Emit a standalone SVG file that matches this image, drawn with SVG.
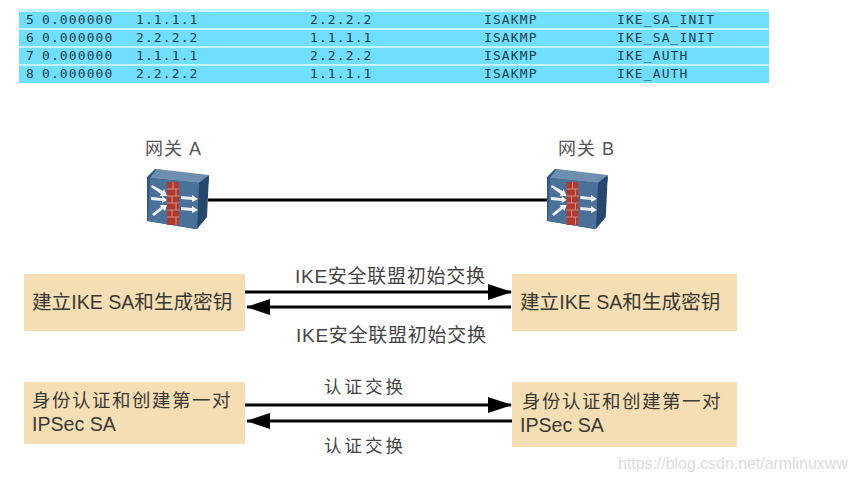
<svg xmlns="http://www.w3.org/2000/svg" width="857" height="481" viewBox="0 0 857 481">
<style>
.row{fill:#6fdeff}
.m{font:13px "DejaVu Sans Mono","Liberation Mono",monospace;letter-spacing:1.1px;fill:#1f3f48}
.t{font-family:"Liberation Sans","Noto Sans CJK SC",sans-serif;fill:#3a3a34}
.l{font-size:19px;letter-spacing:.75px;fill:#444}
.g{font-size:18px;letter-spacing:1px;fill:#555}
.a{font-size:17.5px;letter-spacing:3px;fill:#444}
.b{font-size:19.6px}
.s{font-size:18.5px;letter-spacing:1.5px}
.box{fill:#f5deb3}
.c{stroke:#000;stroke-width:3;fill:none}
.w{fill:#eef2f6}
</style>
<defs>
<marker id="ah" viewBox="0 0 24 16" refX="23" refY="8" markerWidth="24" markerHeight="16" markerUnits="userSpaceOnUse" orient="auto-start-reverse"><path d="M0 0L24 8L0 16Z" fill="#000"/></marker>
<g id="fw">
<path d="M0 8L8 0L62 8L62 11L50 60L48 60L0 52Z" fill="#2f5a86"/>
<path d="M3 9L10 0L62 6L52 14Z" fill="#6f8fb0"/>
<path d="M52 14L62 6L60 48L50 60Z" fill="#27486d"/>
<path d="M3 9L52 14L50 60L1 52Z" fill="#4a7299"/>
<rect x="20" y="13" width="12" height="43" fill="#b03a30"/>
<path d="M20 20H32M20 27H32M20 34H32M20 41H32M20 48H32M26 13V20M29 20V27M25 27V34M29 34V41M25 41V48M29 48V56" stroke="#d98a7c" stroke-width="1" fill="none"/>
<path class="w" d="M5 16L16 22L17 20L20 27L13 27L14 25L4 18Z"/>
<path class="w" d="M4 28L15 29L15 27L20 31L15 34L15 32L4 31Z"/>
<path class="w" d="M5 45L14 38L13 36L20 36L18 42L16 40L7 47Z"/>
<path class="w" d="M34 27L45 28L45 26L51 30L45 33L45 31L34 30Z"/>
<path class="w" d="M34 38L45 39L45 37L51 41L45 44L45 42L34 41Z"/>
</g>
</defs>
<rect width="857" height="481" fill="#fff"/>
<g id="capture-table">
<rect x="19" y="9" width="750" height="74" fill="#c4f2ff"/>
<rect class="row" x="19" y="12" width="750" height="16"/>
<rect class="row" x="19" y="30" width="750" height="16"/>
<rect class="row" x="19" y="48" width="750" height="16"/>
<rect class="row" x="19" y="66" width="750" height="17"/>
<g class="m">
<text x="26" y="24">5</text><text x="42" y="24">0.000000</text><text x="136" y="24">1.1.1.1</text><text x="310" y="24">2.2.2.2</text><text x="484" y="24">ISAKMP</text><text x="617" y="24">IKE_SA_INIT</text>
<text x="26" y="42">6</text><text x="42" y="42">0.000000</text><text x="136" y="42">2.2.2.2</text><text x="310" y="42">1.1.1.1</text><text x="484" y="42">ISAKMP</text><text x="617" y="42">IKE_SA_INIT</text>
<text x="26" y="60">7</text><text x="42" y="60">0.000000</text><text x="136" y="60">1.1.1.1</text><text x="310" y="60">2.2.2.2</text><text x="484" y="60">ISAKMP</text><text x="617" y="60">IKE_AUTH</text>
<text x="26" y="78">8</text><text x="42" y="78">0.000000</text><text x="136" y="78">2.2.2.2</text><text x="310" y="78">1.1.1.1</text><text x="484" y="78">ISAKMP</text><text x="617" y="78">IKE_AUTH</text>
</g>
</g>
<g id="connectors">
<path class="c" d="M208 200H548"/>
<path class="c" d="M245 292H511" marker-end="url(#ah)"/>
<path class="c" d="M511 307H247" marker-end="url(#ah)"/>
<path class="c" d="M245 405H511" marker-end="url(#ah)"/>
<path class="c" d="M513 421H247" marker-end="url(#ah)"/>
</g>
<g id="gateway-a"><use href="#fw" transform="translate(147 169)"/><text class="t g" x="145" y="155">网关 A</text></g>
<g id="gateway-b"><use href="#fw" transform="translate(547 169) scale(.98 1)"/><text class="t g" x="558" y="155">网关 B</text></g>
<g id="box-ike-left"><rect class="box" x="24" y="274" width="221" height="57"/><text class="t b" x="32" y="309">建立IKE SA和生成密钥</text></g>
<g id="box-ike-right"><rect class="box" x="512" y="274" width="225" height="57"/><text class="t b" x="520" y="309">建立IKE SA和生成密钥</text></g>
<g id="box-auth-left"><rect class="box" x="24" y="382" width="221" height="62"/><text class="t s" x="32" y="407">身份认证和创建第一对</text><text class="t b" x="32" y="431">IPSec SA</text></g>
<g id="box-auth-right"><rect class="box" x="512" y="382" width="225" height="65"/><text class="t s" x="522" y="408">身份认证和创建第一对</text><text class="t b" x="520" y="432">IPSec SA</text></g>
<g id="labels">
<text class="t l" x="295" y="283">IKE安全联盟初始交换</text>
<text class="t l" x="296" y="342">IKE安全联盟初始交换</text>
<text class="t a" x="324" y="393">认证交换</text>
<text class="t a" x="324" y="452">认证交换</text>
</g>
<text x="618" y="469" font-family="Liberation Sans,sans-serif" font-size="15.9" fill="#dcdcdc">https://blog.csdn.net/armlinuxww</text>
</svg>
